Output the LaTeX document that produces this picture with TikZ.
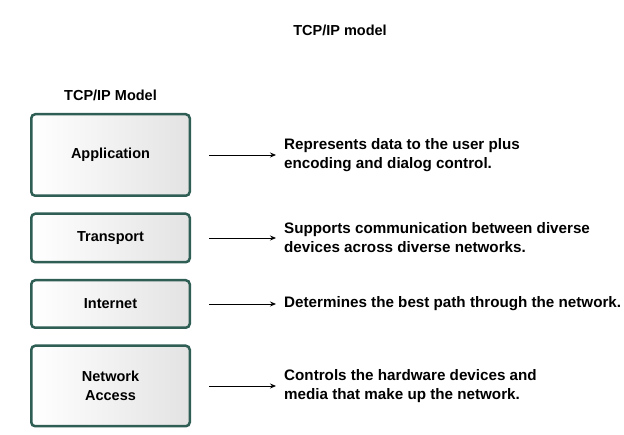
\documentclass[tikz,border=0pt]{standalone}
\usepackage{fontspec}
\setmainfont{Liberation Sans}
\usetikzlibrary{arrows.meta, positioning}
\definecolor{layerline}{HTML}{2F5E54}

\begin{document}
\begin{tikzpicture}[
    x=1pt, y=-1pt,
    node distance=15.5pt,
    layer/.style={rectangle, draw=layerline, line width=2.5pt, rounded corners=4pt,
        left color=white, right color=black!11, minimum width=158.5pt,
        align=center, font=\fontsize{14.5}{19}\selectfont\bfseries},
    desc/.style={inner sep=0pt, anchor=west, align=left, font=\fontsize{15.2}{19}\selectfont\bfseries},
    arrow/.style={-{Stealth[length=6pt, width=5pt]}, line width=0.8pt}
]
    \useasboundingbox (0,0) rectangle (624,435);
    \node[font=\fontsize{14.5}{16}\selectfont\bfseries] (title) at (340,30) {TCP/IP model};
    \node[font=\fontsize{14.5}{16}\selectfont\bfseries] (model) at (110.5,95) {TCP/IP Model};

    \node[layer, minimum height=81.5pt] (app) at (110.5,155) {Application};
    \node[layer, minimum height=48.5pt, below=of app] (transport) {Transport};
    \node[layer, minimum height=47.5pt, below=of transport] (internet) {Internet};
    \node[layer, minimum height=80.5pt, below=of internet] (access) {Network\\Access};

    \node[desc] (appdesc) at (app.east -| 284,0) {Represents data to the user plus\\encoding and dialog control.};
    \node[desc] (transportdesc) at (transport.east -| 284,0) {Supports communication between diverse\\devices across diverse networks.};
    \node[desc] (internetdesc) at (internet.east -| 284,0) {Determines the best path through the network.};
    \node[desc] (accessdesc) at (access.east -| 284,0) {Controls the hardware devices and\\media that make up the network.};

    \draw[arrow] ([xshift=18pt]app.east) -- ([xshift=-8pt]appdesc.west);
    \draw[arrow] ([xshift=18pt]transport.east) -- ([xshift=-8pt]transportdesc.west);
    \draw[arrow] ([xshift=18pt]internet.east) -- ([xshift=-8pt]internetdesc.west);
    \draw[arrow] ([xshift=18pt]access.east) -- ([xshift=-8pt]accessdesc.west);
\end{tikzpicture}
\end{document}
